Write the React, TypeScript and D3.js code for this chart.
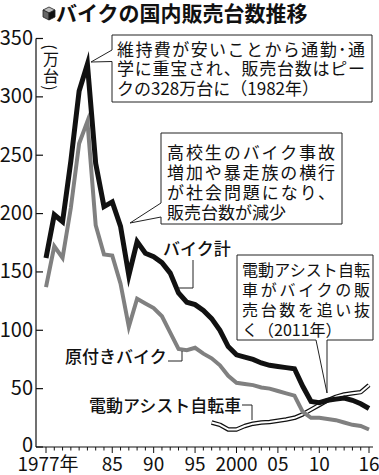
import React from "react";
import * as d3 from "d3";

const years = [1977,1978,1979,1980,1981,1982,1983,1984,1985,1986,1987,1988,1989,1990,1991,1992,1993,1994,1995,1996,1997,1998,1999,2000,2001,2002,2003,2004,2005,2006,2007,2008,2009,2010,2011,2012,2013,2014,2015,2016];
const bikeTotal = [162,199,193,245,305,328,243,206,210,189,147,176,166,163,158,149,132,124,122,117,110,100,86,79,77,75,72,70,69,68,67,52,39,38,40,41,42,40,37,33];
const mopeds = [137,172,162,205,260,279,190,165,164,140,103,127,123,119,112,98,84,83,85,80,76,70,61,55,54,53,51,50,48,46,44,30,25,25,24,23,21,19,18,15];
const assistYears = [1997,1998,1999,2000,2001,2002,2003,2004,2005,2006,2007,2008,2009,2010,2011,2012,2013,2014,2015,2016];
const assistBikes = [21,19,15,15,18,20,21,21.5,22.5,23.5,25,28,32,36,40,43,45,46,47,53];
const yTicks = [0,50,100,150,200,250,300,350];
const xLabelYears = [1977,1985,1990,1995,2000,2005,2010,2016];
const xLabels = ["1977年","85","90","95","2000","05","10","16"];

const JP = '"Noto Sans CJK JP", "Noto Sans", sans-serif';

export default function App() {
  const W = 379, H = 475;
  const x = d3.scaleLinear().domain([1977, 2016]).range([46, 369]);
  const y = d3.scaleLinear().domain([0, 350]).range([447, 38.5]);
  const line = d3.line<[number, number]>().x(d => x(d[0])).y(d => y(d[1]));
  const totalPath = line(years.map((yr, i) => [yr, bikeTotal[i]]) as [number, number][]) || "";
  const mopedPath = line(years.map((yr, i) => [yr, mopeds[i]]) as [number, number][]) || "";
  const assistPath = line(assistYears.map((yr, i) => [yr, assistBikes[i]]) as [number, number][]) || "";
  const allYears = d3.range(1977, 2017);

  return (
    <svg width={W} height={H} style={{ position: "absolute", left: 0, top: 0, background: "#fff" }} fontFamily={JP}>
      <rect x={0} y={0} width={W} height={H} fill="#fff" />
      {/* title icon (cube) */}
      <g transform="translate(49,13)">
        <path d="M0,-6 L6,-3 L0,0 L-6,-3 Z" fill="#bbb" stroke="#222" strokeWidth={0.8} />
        <path d="M-6,-3 L0,0 L0,7 L-6,4 Z" fill="#666" stroke="#222" strokeWidth={0.8} />
        <path d="M6,-3 L0,0 L0,7 L6,4 Z" fill="#111" stroke="#222" strokeWidth={0.8} />
      </g>
      <text x={56} y={21} fontSize={21} fontWeight={700} fill="#111">バイクの国内販売台数推移</text>

      {/* axes */}
      <line x1={36} x2={36} y1={y(350)} y2={y(0)} stroke="#111" strokeWidth={1.2} />
      <line x1={36} x2={373} y1={y(0)} y2={y(0)} stroke="#111" strokeWidth={1.2} />
      {yTicks.map(t => (
        <g key={t}>
          <line x1={36} x2={43} y1={y(t)} y2={y(t)} stroke="#111" strokeWidth={1.2} />
          <text x={33} y={y(t) + (t === 0 ? 5 : 6.5)} fontSize={20} textAnchor="end" fill="#111">{t}</text>
        </g>
      ))}
      {allYears.map(yr => {
        const major = xLabelYears.indexOf(yr) >= 0;
        return <line key={yr} x1={x(yr)} x2={x(yr)} y1={y(0)} y2={y(0) + (major ? 6 : 3.5)} stroke="#111" strokeWidth={1} />;
      })}
      {xLabelYears.map((yr, i) => (
        <text key={yr} x={x(yr) + (i === 0 ? 2 : 0)} y={471} fontSize={19} textAnchor="middle" fill="#111">{xLabels[i]}</text>
      ))}

      {/* unit label */}
      <text transform="translate(51,47) rotate(90)" fontSize={16} textAnchor="middle" dominantBaseline="central" fill="#111">(</text>
      <text x={51} y={64.5} fontSize={16} textAnchor="middle" fill="#111">万</text>
      <text x={51} y={81.5} fontSize={16} textAnchor="middle" fill="#111">台</text>
      <text transform="translate(51,88) rotate(90)" fontSize={16} textAnchor="middle" dominantBaseline="central" fill="#111">)</text>

      {/* series */}
      <path d={assistPath} fill="none" stroke="#111" strokeWidth={4.5} strokeLinejoin="round" />
      <path d={assistPath} fill="none" stroke="#fff" strokeWidth={2} strokeLinejoin="round" />
      <path d={mopedPath} fill="none" stroke="#808080" strokeWidth={4} strokeLinejoin="miter" strokeMiterlimit={6} />
      <path d={totalPath} fill="none" stroke="#111" strokeWidth={5} strokeLinejoin="miter" strokeMiterlimit={6} />

      {/* callout 1 */}
      <path d="M112,35 H372 V102 H112 V61.5 L91,62 L112,50 Z" fill="#fff" stroke="#222" strokeWidth={1} />
      <text x={117} y={55.5} fontSize={17} textLength={248} lengthAdjust="spacing" fill="#111">維持費が安いことから通勤･通</text>
      <text x={117} y={75} fontSize={17} textLength={248} lengthAdjust="spacing" fill="#111">学に重宝され、販売台数はピー</text>
      <text x={117} y={94.5} fontSize={17} fill="#111">クの328万台に（1982年）</text>

      {/* callout 2 */}
      <path d="M161,133 H342 V224 H161 V217 L130,223 L161,203 Z" fill="#fff" stroke="#222" strokeWidth={1} />
      <text x={167} y={158.5} fontSize={17} textLength={168} lengthAdjust="spacing" fill="#111">高校生のバイク事故</text>
      <text x={167} y={178.5} fontSize={17} textLength={168} lengthAdjust="spacing" fill="#111">増加や暴走族の横行</text>
      <text x={167} y={198.5} fontSize={17} textLength={168} lengthAdjust="spacing" fill="#111">が社会問題になり、</text>
      <text x={167} y={218.5} fontSize={17} fill="#111">販売台数が減少</text>

      {/* callout 3 */}
      <path d="M237,255 H373 V340 H327 V393 L316,340 H237 Z" fill="#fff" stroke="#222" strokeWidth={1} />
      <text x={242} y={276} fontSize={16} textLength={128} lengthAdjust="spacing" fill="#111">電動アシスト自転</text>
      <text x={242} y={296} fontSize={16} textLength={128} lengthAdjust="spacing" fill="#111">車がバイクの販</text>
      <text x={242} y={316} fontSize={16} textLength={128} lengthAdjust="spacing" fill="#111">売台数を追い抜</text>
      <text x={242} y={336} fontSize={16} fill="#111">く（2011年）</text>

      {/* series labels */}
      <text x={163} y={254.5} fontSize={17} fontWeight={500} fill="#111">バイク計</text>
      <polyline points="193,260 193,288 178,288" fill="none" stroke="#222" strokeWidth={1} />
      <text x={65} y={363} fontSize={17} fontWeight={500} fill="#111">原付きバイク</text>
      <polyline points="168,361 182,361 182,351" fill="none" stroke="#222" strokeWidth={1} />
      <text x={89} y={412} fontSize={17} fontWeight={500} fill="#111">電動アシスト自転車</text>
      <polyline points="242,405 252,405 252,420" fill="none" stroke="#222" strokeWidth={1} />
    </svg>
  );
}
